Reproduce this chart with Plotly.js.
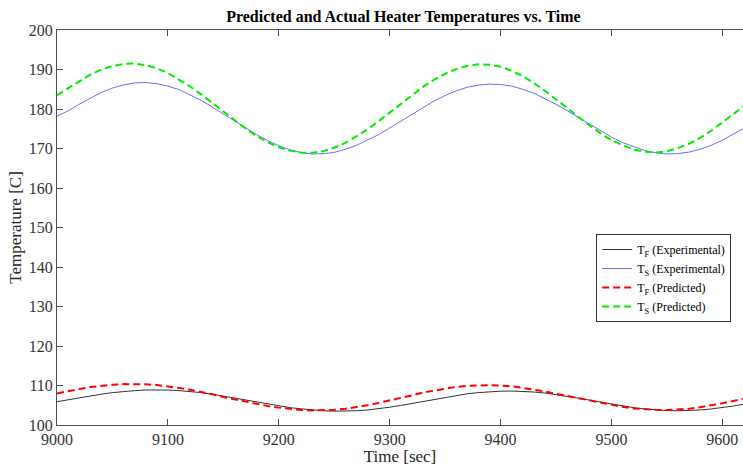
<!DOCTYPE html>
<html>
<head>
<meta charset="utf-8">
<script src="https://cdn.plot.ly/plotly-3.0.1.min.js"></script>
<style>html,body{margin:0;padding:0;background:#fff;}#chart{width:743px;height:466px;}</style>
</head>
<body>
<div id="chart"></div>
<script>
// Time samples [sec]
const time = [9000,9010,9020,9030,9040,9050,9060,9070,9080,9090,9100,9110,9120,9130,9140,9150,9160,9170,9180,9190,9200,9210,9220,9230,9240,9250,9260,9270,9280,9290,9300,9310,9320,9330,9340,9350,9360,9370,9380,9390,9400,9410,9420,9430,9440,9450,9460,9470,9480,9490,9500,9510,9520,9530,9540,9550,9560,9570,9580,9590,9600,9610,9620];

// T_F experimental
const tfExp = [105.9,106.4,106.9,107.4,107.8,108.2,108.5,108.7,108.86,108.9,108.85,108.7,108.5,108.2,107.8,107.3,106.8,106.3,105.8,105.3,104.85,104.4,104.1,103.8,103.6,103.5,103.5,103.6,103.8,104.1,104.5,104.95,105.45,106.0,106.5,107.0,107.5,107.9,108.2,108.4,108.56,108.6,108.5,108.35,108.1,107.7,107.3,106.8,106.3,105.8,105.3,104.8,104.4,104.05,103.8,103.65,103.6,103.65,103.8,104.06,104.4,104.8,105.3];

// T_S experimental
const tsExp = [178.2,179.5,181.2,182.8,184.2,185.3,186.1,186.6,186.7,186.4,185.8,184.9,183.6,182.2,180.5,178.7,176.9,175.1,173.5,172.0,170.7,169.7,168.96,168.6,168.7,169.0,169.8,170.8,172.1,173.5,175.2,176.9,178.7,180.4,182.0,183.4,184.6,185.5,186.05,186.3,186.2,185.8,185.0,184.0,182.7,181.2,179.6,177.9,176.2,174.5,172.9,171.5,170.4,169.5,168.9,168.6,168.7,169.1,169.8,170.8,172.1,173.6,175.2];

// T_F predicted
const tfPred = [108.0,108.6,109.1,109.6,109.95,110.2,110.36,110.4,110.3,110.1,109.8,109.4,108.9,108.4,107.8,107.1,106.5,105.9,105.3,104.8,104.4,104.06,103.8,103.7,103.7,103.85,104.1,104.5,105.0,105.6,106.2,106.9,107.5,108.2,108.7,109.25,109.65,109.9,110.07,110.1,110.0,109.8,109.4,109.0,108.5,107.9,107.35,106.7,106.1,105.6,105.05,104.6,104.2,103.97,103.83,103.8,103.9,104.1,104.5,104.96,105.5,106.1,106.7];

// T_S predicted
const tsPred = [183.5,185.2,187.1,188.7,190.0,190.9,191.4,191.5,191.1,190.3,189.1,187.5,185.7,183.7,181.5,179.3,177.1,175.1,173.2,171.6,170.3,169.5,169.0,168.9,169.3,170.2,171.4,173.0,174.8,176.9,179.1,181.3,183.5,185.6,187.4,188.9,190.1,190.9,191.3,191.2,190.7,189.7,188.3,186.6,184.6,182.5,180.3,178.0,175.9,173.9,172.1,170.8,169.7,169.2,169.0,169.3,170.1,171.2,172.7,174.5,176.5,178.7,180.9];

const names = ['T<sub>F</sub> (Experimental)','T<sub>S</sub> (Experimental)','T<sub>F</sub> (Predicted)','T<sub>S</sub> (Predicted)'];
const xTicks = [9000,9100,9200,9300,9400,9500,9600];
const yTicks = [100,110,120,130,140,150,160,170,180,190,200];

const serif = 'Liberation Serif, Times New Roman, serif';
const axisColor = '#4d4d4d';

const traces = [
  {x: time, y: tfExp, name: names[0], mode: 'lines', line: {color: '#333333', width: 1}},
  {x: time, y: tsExp, name: names[1], mode: 'lines', line: {color: '#6e6eff', width: 1}},
  {x: time, y: tfPred, name: names[2], mode: 'lines', line: {color: '#ff0000', width: 2, dash: '7px,4px'}},
  {x: time, y: tsPred, name: names[3], mode: 'lines', line: {color: '#00ee00', width: 2, dash: '7px,4px'}}
];

const layout = {
  width: 743, height: 466,
  margin: {l: 57, r: 0, t: 30, b: 41, pad: 0},
  paper_bgcolor: '#ffffff', plot_bgcolor: '#ffffff',
  font: {family: serif, size: 16, color: '#262626'},
  title: {text: '<b>Predicted and Actual Heater Temperatures vs. Time</b>', font: {family: serif, size: 16, color: '#000'}, x: 0.505, xref: 'paper', y: 0.965, yref: 'container', xanchor: 'center', yanchor: 'middle'},
  xaxis: {
    range: [9000, 9618.7], tickvals: xTicks, ticktext: xTicks.map(String),
    ticks: 'inside', ticklen: 6, tickcolor: axisColor, tickwidth: 1,
    showline: true, linecolor: axisColor, linewidth: 1, mirror: 'ticks',
    showgrid: false, zeroline: false,
    tickfont: {family: serif, size: 16, color: '#333333'},
    title: {text: 'Time [sec]', font: {family: serif, size: 17, color: '#262626'}, standoff: 2}
  },
  yaxis: {
    range: [100, 200], tickvals: yTicks, ticktext: yTicks.map(String),
    ticks: 'inside', ticklen: 6, tickcolor: axisColor, tickwidth: 1,
    showline: true, linecolor: axisColor, linewidth: 1, mirror: false,
    showgrid: false, zeroline: false,
    tickfont: {family: serif, size: 16, color: '#333333'},
    title: {text: 'Temperature [C]', font: {family: serif, size: 17, color: '#262626'}, standoff: 2}
  },
  showlegend: true,
  legend: {
    x: 0.786, y: 0.4835, xanchor: 'left', yanchor: 'top',
    bgcolor: '#ffffff', bordercolor: '#333333', borderwidth: 1,
    font: {family: serif, size: 12, color: '#000'},
    itemwidth: 30, tracegroupgap: 0
  }
};

Plotly.newPlot('chart', traces, layout, {displayModeBar: false, staticPlot: true});
</script>
</body>
</html>
